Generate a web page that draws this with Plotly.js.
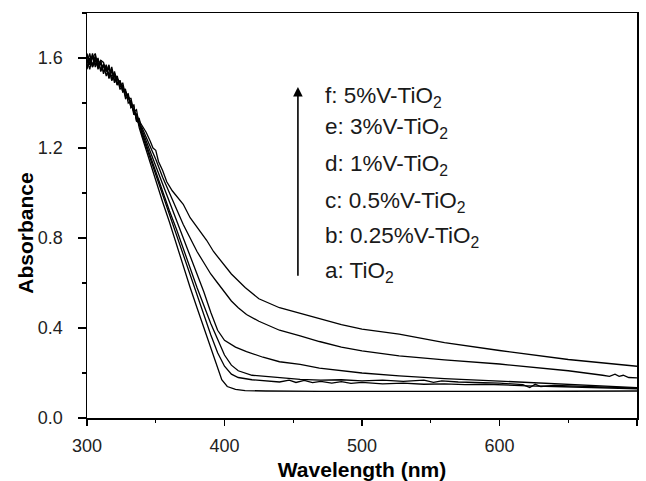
<!DOCTYPE html>
<html>
<head>
<meta charset="utf-8">
<script src="https://cdn.plot.ly/plotly-3.0.1.min.js"></script>
<style>html,body{margin:0;padding:0;background:#fff;}#chart{width:646px;height:481px;}</style>
</head>
<body>
<div id="chart"></div>
<script>
// Wavelength grid of the noisy start region (nm)
const wlHead = [300,302,304,306,308,310,312,314,316,318,320,322,324,326,328,330,332,334,336,338];

// a: TiO2
const headA = [1.56,1.60,1.57,1.61,1.55,1.58,1.54,1.55,1.53,1.52,1.53,1.48,1.50,1.45,1.46,1.40,1.41,1.35,1.35,1.29];
const wlA   = [340,345,350,355,360,365,370,375,380,385,390,395,398,402,408,415,430,470,550,600,650,700];
const absA  = [1.25,1.15,1.06,0.96,0.87,0.77,0.68,0.58,0.49,0.40,0.31,0.22,0.17,0.14,0.127,0.122,0.12,0.118,0.117,0.118,0.119,0.12];

// b: 0.25%V-TiO2
const headB = [1.59,1.55,1.61,1.57,1.60,1.54,1.57,1.52,1.56,1.50,1.53,1.51,1.47,1.49,1.43,1.44,1.38,1.39,1.32,1.31];
const wlB   = [340,345,350,355,360,365,370,375,380,385,390,395,400,405,410,420,430,440,447,452,458,464,470,478,485,492,500,515,530,545,560,575,590,600,620,640,660,680,700];
const absB  = [1.26,1.17,1.08,0.99,0.90,0.81,0.72,0.63,0.54,0.45,0.37,0.29,0.23,0.195,0.18,0.17,0.165,0.16,0.168,0.158,0.167,0.157,0.163,0.155,0.162,0.154,0.158,0.152,0.155,0.15,0.152,0.148,0.15,0.147,0.143,0.14,0.137,0.134,0.13];

// c: 0.5%V-TiO2
const headC = [1.55,1.60,1.56,1.59,1.56,1.59,1.53,1.57,1.51,1.55,1.49,1.52,1.46,1.48,1.42,1.43,1.39,1.37,1.33,1.31];
const wlC   = [340,345,350,355,360,365,370,375,380,385,390,395,400,405,410,420,440,455,470,485,500,515,530,545,552,558,570,585,600,617,622,626,630,640,660,680,700];
const absC  = [1.27,1.18,1.10,1.01,0.92,0.84,0.75,0.67,0.58,0.50,0.42,0.35,0.28,0.235,0.21,0.19,0.18,0.172,0.168,0.17,0.165,0.168,0.163,0.168,0.158,0.165,0.16,0.157,0.155,0.148,0.135,0.15,0.14,0.145,0.141,0.137,0.133];

// d: 1%V-TiO2
const headD = [1.61,1.57,1.62,1.56,1.59,1.57,1.56,1.55,1.52,1.56,1.50,1.51,1.49,1.46,1.45,1.43,1.38,1.39,1.32,1.33];
const wlD   = [340,345,350,355,360,365,370,375,380,385,390,395,400,408,416,428,440,455,469,500,527,560,600,650,700];
const absD  = [1.28,1.20,1.12,1.04,0.96,0.88,0.80,0.72,0.64,0.56,0.47,0.39,0.345,0.315,0.295,0.27,0.25,0.238,0.222,0.20,0.187,0.175,0.164,0.148,0.135];

// e: 3%V-TiO2
const headE = [1.58,1.62,1.56,1.60,1.58,1.55,1.57,1.56,1.51,1.54,1.52,1.48,1.50,1.45,1.45,1.43,1.40,1.36,1.37,1.30];
const wlE   = [340,345,350,355,360,365,370,375,380,385,390,395,400,405,410,416,425,440,455,469,485,500,527,560,600,650,675,680,684,687,690,694,700];
const absE  = [1.29,1.22,1.15,1.07,1.00,0.93,0.86,0.80,0.74,0.69,0.64,0.60,0.56,0.52,0.49,0.46,0.43,0.39,0.365,0.34,0.315,0.298,0.276,0.258,0.24,0.21,0.19,0.185,0.195,0.185,0.19,0.18,0.178];

// f: 5%V-TiO2
const headF = [1.62,1.57,1.60,1.62,1.56,1.59,1.58,1.54,1.57,1.50,1.54,1.49,1.49,1.47,1.45,1.42,1.42,1.36,1.35,1.32];
const wlF   = [340,343,346,348,350,352,355,358,362,366,370,375,380,387,392,397,405,415,425,440,455,469,485,500,527,560,600,650,700];
const absF  = [1.30,1.27,1.23,1.20,1.19,1.14,1.10,1.05,1.01,0.98,0.95,0.89,0.85,0.79,0.74,0.70,0.64,0.58,0.53,0.49,0.465,0.44,0.415,0.395,0.373,0.335,0.30,0.26,0.23];

const seriesNames = ['a: TiO2','b: 0.25%V-TiO2','c: 0.5%V-TiO2','d: 1%V-TiO2','e: 3%V-TiO2','f: 5%V-TiO2'];
const labelTexts = ['a: TiO<sub>2</sub>','b: 0.25%V-TiO<sub>2</sub>','c: 0.5%V-TiO<sub>2</sub>','d: 1%V-TiO<sub>2</sub>','e: 3%V-TiO<sub>2</sub>','f: 5%V-TiO<sub>2</sub>'];
const xTickVals = [300,400,500,600,700];
const yTickVals = [0,0.4,0.8,1.2,1.6];

const heads = [headA,headB,headC,headD,headE,headF];
const wls = [wlA,wlB,wlC,wlD,wlE,wlF];
const abss = [absA,absB,absC,absD,absE,absF];

const traces = heads.map((h,i)=>({
  type:'scatter', mode:'lines', name: seriesNames[i],
  x: wlHead.concat(wls[i]), y: h.concat(abss[i]),
  line:{color:'#000', width:1.3}, showlegend:false
}));

const FAM = 'Liberation Sans, Arial, sans-serif';
const textFont = {family:FAM, size:22.5, color:'#1a1a1a'};
const labelY = [0.650,0.805,0.961,1.124,1.289,1.427];
const annotations = labelTexts.map((t,i)=>({
  x:471.5, y:labelY[i], xref:'x', yref:'y', text:t, showarrow:false,
  xanchor:'left', yanchor:'middle', font:textFont
}));
annotations.push({
  x:453.4, y:1.471, ax:453.4, ay:0.626, xref:'x', yref:'y', axref:'x', ayref:'y',
  text:'', showarrow:true, arrowhead:2, arrowsize:1.2, arrowwidth:1.6, arrowcolor:'#000'
});
annotations.push({
  x:-0.112, y:0.456, xref:'paper', yref:'paper', text:'<b>Absorbance</b>', showarrow:false,
  textangle:-90, xanchor:'center', yanchor:'middle',
  font:{family:FAM, size:21, color:'#000'}
});

const tickFont = {family:FAM, size:18, color:'#222'};
const layout = {
  width:646, height:481,
  margin:{l:87, r:9, t:13, b:63},
  paper_bgcolor:'#fff', plot_bgcolor:'#fff',
  showlegend:false,
  xaxis:{
    range:[300,700], tickvals:xTickVals, ticks:'outside', ticklen:6, tickwidth:1.5, tickcolor:'#000',
    showline:true, linecolor:'#000', linewidth:1.5, mirror:true, showgrid:false, zeroline:false,
    tickfont:tickFont, ticklabelstandoff:5,
    minor:{dtick:50, ticks:'outside', ticklen:3, tickwidth:1.2, tickcolor:'#000', showgrid:false},
    title:{text:'<b>Wavelength (nm)</b>', standoff:12, font:{family:FAM, size:21, color:'#000'}}
  },
  yaxis:{
    range:[0,1.8], tickvals:yTickVals, tickformat:'.1f', ticks:'outside', ticklen:8, tickwidth:1.5, tickcolor:'#000',
    showline:true, linecolor:'#000', linewidth:1.5, mirror:true, showgrid:false, zeroline:false,
    tickfont:tickFont, ticklabelstandoff:11,
    minor:{dtick:0.2, ticks:'outside', ticklen:4, tickwidth:1.2, tickcolor:'#000', showgrid:false}
  },
  annotations: annotations
};

Plotly.newPlot('chart', traces, layout, {staticPlot:true, displayModeBar:false});
</script>
</body>
</html>
